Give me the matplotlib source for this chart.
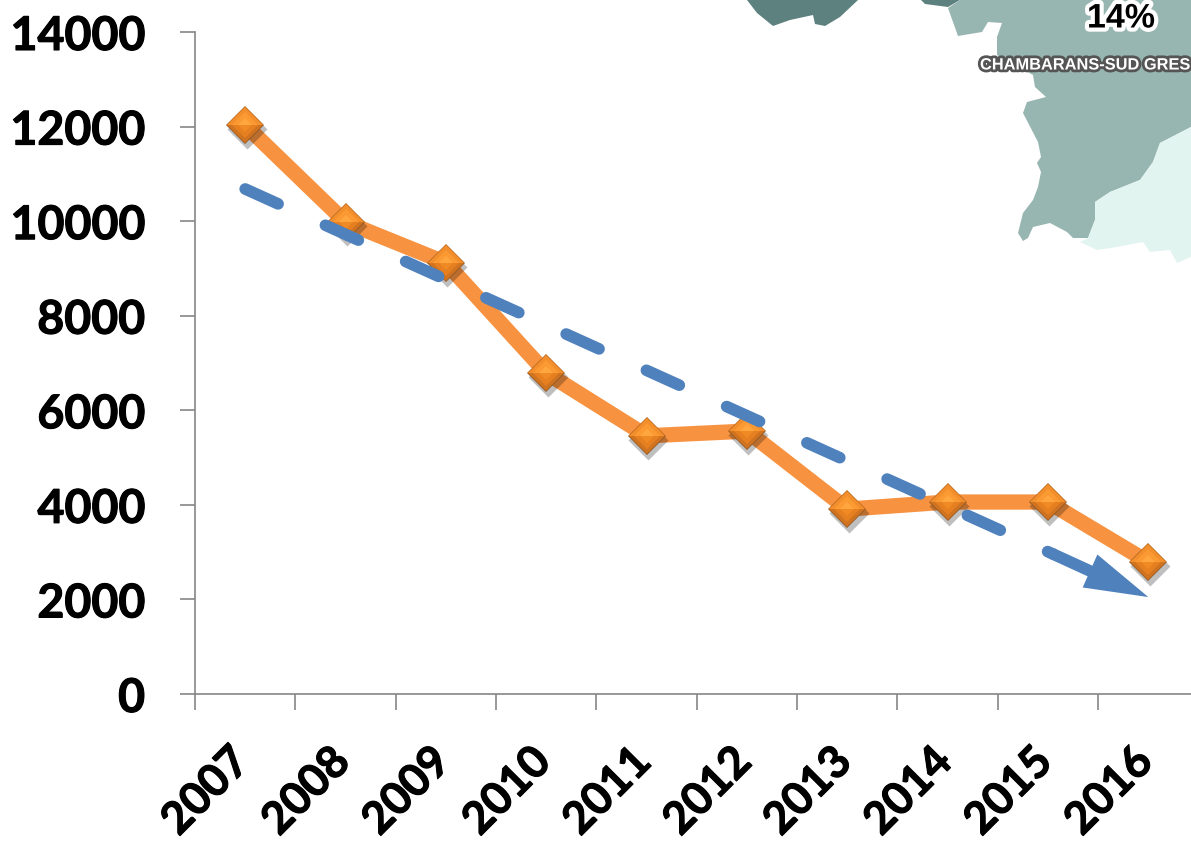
#!/usr/bin/env python
import matplotlib
matplotlib.use('Agg')
import matplotlib.pyplot as plt
import matplotlib.patheffects as pe
from matplotlib.patches import Polygon
from matplotlib.transforms import ScaledTranslation

years = ['2007', '2008', '2009', '2010', '2011', '2012', '2013', '2014', '2015', '2016']
values = [12030, 9980, 9120, 6790, 5460, 5560, 3910, 4060, 4060, 2790]
y_ticks = [0, 2000, 4000, 6000, 8000, 10000, 12000, 14000]

# trend arrow, in data units: dashed part, solid last dash, tip
trend_x = [0.0, 8.05]
trend_y = [10680, 2960]
tail_x = [8.05, 8.42]
tail_y = [2960, 2600]
trend_tip = (9.0, 2050)

# background map fragments, in image pixels
map_dark_1 = [(747, 0), (757, 13), (773, 26), (790, 20), (813, 15), (815, 24), (825, 26), (840, 17), (858, 0)]
map_dark_2 = [(921, 0), (925, 4), (948, 7), (960, 0)]
map_mid = [(948, 8), (958, 36), (982, 32), (988, 22), (1002, 23), (997, 37), (997, 55), (1033, 75), (1035, 87),
           (1046, 97), (1027, 102), (1023, 113), (1038, 142), (1041, 157), (1037, 163), (1041, 172), (1038, 187),
           (1033, 200), (1023, 213), (1018, 233), (1023, 241), (1028, 238), (1033, 227), (1050, 223), (1067, 232),
           (1073, 238), (1088, 238), (1095, 220), (1095, 202), (1110, 192), (1140, 180), (1153, 162), (1160, 143),
           (1191, 127), (1191, 0), (960, 0)]
map_light = [(1191, 127), (1160, 143), (1153, 162), (1140, 180), (1110, 192), (1095, 202), (1095, 220), (1088, 238),
             (1080, 242), (1097, 250), (1117, 247), (1143, 242), (1150, 252), (1170, 250), (1177, 263), (1191, 257)]

# layers of the bevelled diamond: size, upper half, lower half
diamond_layers = [(19.8, '#B5651D', '#8A5424'), (18.6, '#F28E2B', '#CF7320'), (13, '#FB9A33', '#E57F1F'),
                  (7, '#FFA63F', '#F08A25')]

plt.rcParams['lines.scale_dashes'] = False

fig = plt.figure(figsize=(11.91, 8.41), dpi=100)

# map sits underneath, drawn in pixel coordinates
bg = fig.add_axes([0, 0, 1, 1])
bg.set_xlim(0, 1191)
bg.set_ylim(841, 0)
bg.axis('off')
bg.add_patch(Polygon(map_dark_1, fc='#5D817E', ec='none'))
bg.add_patch(Polygon(map_dark_2, fc='#5D817E', ec='none'))
bg.add_patch(Polygon(map_mid, fc='#98B6B1', ec='none'))
bg.add_patch(Polygon(map_light, fc='#E2F4F0', ec='none'))
bg.text(1121, 19, '14%', family='Liberation Sans', weight='bold', fontsize=24.5, color='black',
        ha='center', va='center', path_effects=[pe.withStroke(linewidth=6, foreground='white')])
bg.text(980, 65, 'CHAMBARANS-SUD GRES', family='Liberation Sans', weight='bold', fontsize=11.8,
        color='white', ha='left', va='center',
        path_effects=[pe.withStroke(linewidth=4, foreground='#555555')])

ax = fig.add_axes([195 / 1191, (841 - 694) / 841, 996 / 1191, 662 / 841])
ax.patch.set_alpha(0)
positions = list(range(len(years)))

ax.plot(positions, values, color='#F79240', lw=11, solid_joinstyle='miter', zorder=2, clip_on=False)

shadow = ax.transData + ScaledTranslation(1 / 72, -3 / 72, fig.dpi_scale_trans)
ax.plot(positions, values, ls='none', marker='D', ms=20, color='black', alpha=0.25, mec='none',
        transform=shadow, zorder=2.5, clip_on=False)
for size, upper, lower in diamond_layers:
    ax.plot(positions, values, ls='none', marker='D', ms=size, fillstyle='top', color=upper,
            markerfacecoloralt=lower, mec='none', mew=0, zorder=3, clip_on=False)

ax.plot(trend_x, trend_y, color='#4F81BD', lw=8.4, dashes=(26, 37.4), dash_capstyle='round', zorder=4)
ax.plot(tail_x, tail_y, color='#4F81BD', lw=8.4, solid_capstyle='round', zorder=4)
ax.annotate('', xy=trend_tip, xytext=(tail_x[1], tail_y[1]), zorder=4,
            arrowprops=dict(arrowstyle='-|>,head_length=46,head_width=13', mutation_scale=1,
                            fc='#4F81BD', ec='none', lw=0, shrinkA=0, shrinkB=0))

ax.set_xlim(-0.5, 9.425)
ax.set_ylim(0, 14000)
for side in ['top', 'right']:
    ax.spines[side].set_visible(False)
for side in ['left', 'bottom']:
    ax.spines[side].set_color('#868686')
    ax.spines[side].set_linewidth(1.2)

thick = [pe.withStroke(linewidth=0.8, foreground='black')]

ax.set_yticks(y_ticks)
ax.set_yticklabels([str(v) for v in y_ticks], family='Lato', weight='bold', fontsize=33.5, path_effects=thick)
ax.tick_params(axis='y', length=11, width=1.2, color='#868686', pad=25, labelcolor='black')

# ticks between the categories, labels on the categories
ax.set_xticks([p - 0.5 for p in positions])
ax.set_xticklabels([])
ax.tick_params(axis='x', which='major', length=11.5, width=1.2, color='#868686')
ax.set_xticks(positions, minor=True)
ax.set_xticklabels(years, minor=True, family='Lato', weight='bold', fontsize=32, rotation=45,
                   ha='right', va='top', rotation_mode='anchor', path_effects=thick)
ax.tick_params(axis='x', which='minor', length=0, pad=33.5, labelcolor='black')
for label in ax.get_xticklabels(minor=True):
    label.set_transform(label.get_transform() + ScaledTranslation(-12 / 72, 0, fig.dpi_scale_trans))

fig.savefig('out.png', dpi=100)
